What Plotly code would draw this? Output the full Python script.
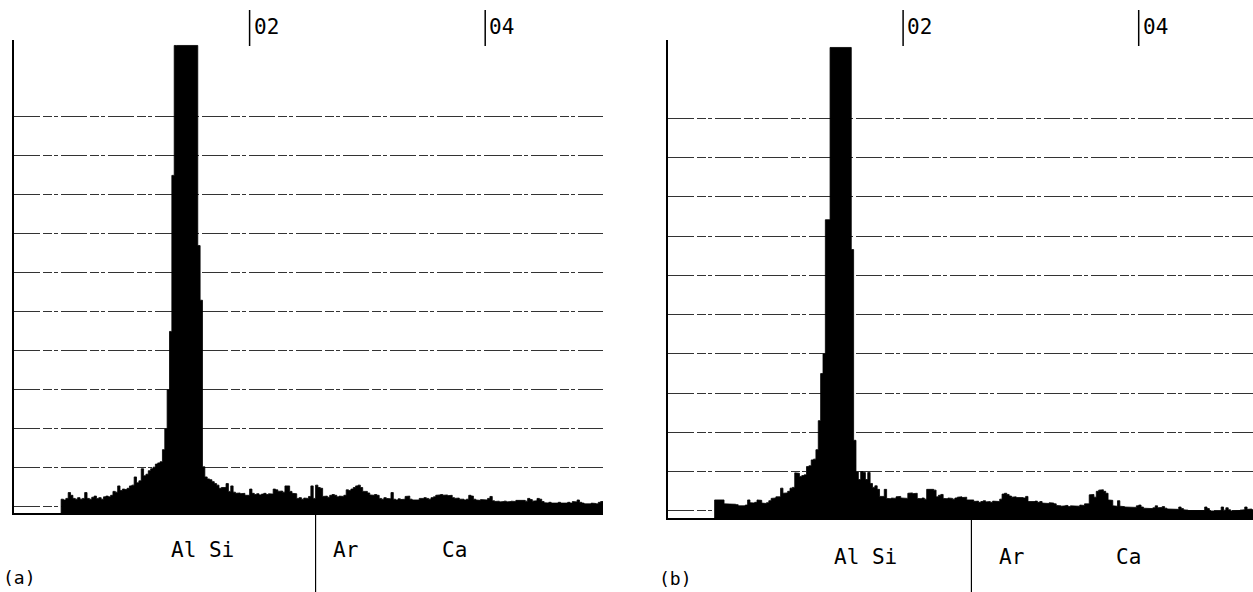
import plotly.graph_objects as go

# ---------------- data ----------------
E_START = 0.40          # keV, first channel of both spectra
E_STEP = 0.02           # keV per channel
N_CH = 230

# panel (a) counts (in units of one grid division)
counts_a = [
    0.20, 0.18, 0.22, 0.37, 0.30, 0.22, 0.20, 0.24, 0.20, 0.22,
    0.37, 0.22, 0.20, 0.25, 0.28, 0.22, 0.24, 0.20, 0.26, 0.28,
    0.26, 0.30, 0.40, 0.38, 0.54, 0.42, 0.46, 0.45, 0.48, 0.54,
    0.56, 0.77, 0.62, 0.67, 0.98, 0.80, 0.84, 0.93, 0.98, 1.02,
    1.10, 1.13, 1.16, 1.47, 2.00, 3.00, 4.50, 8.50, 11.83, 11.83,
    11.83, 11.83, 11.83, 11.83, 11.83, 11.83, 11.83, 11.83, 6.70, 5.30,
    1.03, 0.77, 0.72, 0.70, 0.65, 0.60, 0.56, 0.48, 0.50, 0.50,
    0.60, 0.40, 0.54, 0.38, 0.35, 0.36, 0.34, 0.35, 0.30, 0.30,
    0.46, 0.35, 0.32, 0.34, 0.31, 0.33, 0.35, 0.32, 0.34, 0.33,
    0.46, 0.44, 0.40, 0.41, 0.38, 0.54, 0.54, 0.40, 0.35, 0.34,
    0.22, 0.24, 0.20, 0.23, 0.22, 0.27, 0.54, 0.22, 0.56, 0.50,
    0.48, 0.27, 0.28, 0.25, 0.30, 0.32, 0.30, 0.26, 0.28, 0.27,
    0.30, 0.44, 0.42, 0.46, 0.50, 0.54, 0.56, 0.50, 0.40, 0.40,
    0.36, 0.31, 0.30, 0.32, 0.30, 0.22, 0.20, 0.24, 0.22, 0.21,
    0.37, 0.20, 0.18, 0.21, 0.19, 0.20, 0.27, 0.28, 0.20, 0.18,
    0.18, 0.18, 0.22, 0.22, 0.24, 0.22, 0.20, 0.24, 0.26, 0.30,
    0.31, 0.32, 0.30, 0.31, 0.29, 0.30, 0.24, 0.22, 0.23, 0.20,
    0.20, 0.18, 0.20, 0.30, 0.28, 0.20, 0.18, 0.17, 0.19, 0.18,
    0.18, 0.22, 0.27, 0.16, 0.14, 0.15, 0.13, 0.14, 0.15, 0.13,
    0.14, 0.15, 0.14, 0.17, 0.18, 0.18, 0.17, 0.15, 0.22, 0.19,
    0.15, 0.16, 0.22, 0.20, 0.14, 0.11, 0.10, 0.12, 0.10, 0.11,
    0.10, 0.12, 0.10, 0.11, 0.10, 0.12, 0.10, 0.14, 0.13, 0.18,
    0.12, 0.10, 0.08, 0.09, 0.08, 0.10, 0.09, 0.08, 0.12, 0.14,
]

# panel (b) counts
counts_b = [
    0.28, 0.28, 0.27, 0.28, 0.18, 0.18, 0.17, 0.18, 0.17, 0.16,
    0.13, 0.14, 0.13, 0.15, 0.28, 0.21, 0.20, 0.22, 0.28, 0.27,
    0.20, 0.19, 0.21, 0.26, 0.32, 0.33, 0.36, 0.36, 0.58, 0.45,
    0.46, 0.50, 0.58, 0.60, 0.97, 0.96, 0.88, 0.90, 0.92, 1.13,
    1.15, 1.30, 1.32, 1.56, 2.30, 3.50, 4.00, 7.42, 7.42, 11.81,
    11.81, 11.81, 11.81, 11.81, 11.81, 11.81, 11.81, 11.81, 6.66, 1.80,
    0.99, 0.80, 1.00, 0.98, 0.80, 0.98, 0.70, 0.60, 0.64, 0.55,
    0.37, 0.37, 0.55, 0.32, 0.31, 0.33, 0.32, 0.36, 0.37, 0.33,
    0.33, 0.32, 0.45, 0.46, 0.44, 0.45, 0.32, 0.31, 0.33, 0.30,
    0.55, 0.56, 0.55, 0.53, 0.36, 0.40, 0.42, 0.32, 0.31, 0.33,
    0.32, 0.30, 0.33, 0.35, 0.36, 0.34, 0.35, 0.28, 0.27, 0.28,
    0.24, 0.25, 0.22, 0.24, 0.26, 0.23, 0.24, 0.22, 0.25, 0.24,
    0.24, 0.30, 0.43, 0.45, 0.42, 0.38, 0.35, 0.36, 0.34, 0.35,
    0.34, 0.33, 0.37, 0.24, 0.23, 0.24, 0.25, 0.22, 0.24, 0.20,
    0.20, 0.19, 0.21, 0.20, 0.18, 0.14, 0.13, 0.12, 0.13, 0.14,
    0.11, 0.13, 0.12, 0.13, 0.12, 0.15, 0.14, 0.18, 0.18, 0.41,
    0.42, 0.35, 0.50, 0.53, 0.54, 0.50, 0.45, 0.28, 0.27, 0.13,
    0.12, 0.26, 0.12, 0.11, 0.10, 0.10, 0.09, 0.10, 0.09, 0.13,
    0.15, 0.10, 0.07, 0.06, 0.07, 0.06, 0.08, 0.13, 0.08, 0.09,
    0.11, 0.07, 0.05, 0.04, 0.04, 0.05, 0.04, 0.10, 0.06, 0.03,
    0.02, 0.01, 0.02, 0.01, 0.02, 0.01, 0.02, 0.01, 0.10, 0.06,
    0.00, 0.01, 0.00, 0.01, 0.00, 0.10, 0.02, 0.08, 0.03, 0.00,
    0.01, 0.00, 0.01, 0.02, 0.03, 0.10, 0.04, 0.05, 0.03, 0.04,
]

grid_levels = list(range(0, 11))          # horizontal reference lines
top_marks = [2, 4]                        # keV markers at top
top_mark_labels = ["02", "04"]
element_labels = ["Al Si", "Ar", "Ca"]
element_pos_a = [1.60, 2.81, 3.74]
element_pos_b = [1.68, 2.92, 3.91]
divider_a = 2.56
divider_b = 2.58
panel_labels = ["(a)", "(b)"]

BASE_A = -0.154
BASE_B = -0.18

W, H = 1253, 592
FONT = "DejaVu Sans Mono"


def step_outline(counts, base):
    """Closed histogram outline built from the channel counts."""
    edges = [E_START + E_STEP * i for i in range(len(counts) + 1)]
    xs, ys = [edges[0]], [base]
    for i, c in enumerate(counts):
        xs += [edges[i], edges[i + 1]]
        ys += [c, c]
    xs += [edges[-1], edges[0]]
    ys += [base, base]
    return xs, ys


fig = go.Figure()
for counts, base, xa, ya in [(counts_a, BASE_A, "x", "y"), (counts_b, BASE_B, "x2", "y2")]:
    xs, ys = step_outline(counts, base)
    fig.add_trace(go.Scatter(
        x=xs, y=ys, mode="lines", fill="toself", fillcolor="black",
        line=dict(color="black", width=0.8), xaxis=xa, yaxis=ya,
        hoverinfo="skip"))

GRID = dict(showgrid=True, gridcolor="#333333", gridwidth=1,
            griddash="26px,3px,9px,2px,4px,3px", tickvals=grid_levels,
            showticklabels=False, ticks="", zeroline=False,
            showline=True, linecolor="black", linewidth=1.5)
XAX = dict(showgrid=False, showticklabels=False, ticks="", zeroline=False,
           showline=True, linecolor="black", linewidth=1.5)

fig.update_layout(
    width=W, height=H, margin=dict(l=0, r=0, t=0, b=0),
    paper_bgcolor="white", plot_bgcolor="white", showlegend=False,
    font=dict(family=FONT, size=21, color="black"),
    xaxis=dict(XAX, range=[0, 5.0], domain=[14 / W, 603 / W], anchor="y"),
    yaxis=dict(GRID, range=[BASE_A, 11.97], domain=[(H - 513) / H, (H - 40) / H], anchor="x"),
    xaxis2=dict(XAX, range=[0, (W - 667.5) / 117.8], domain=[667.5 / W, 1.0], anchor="y2"),
    yaxis2=dict(GRID, range=[BASE_B, 12.0], domain=[(H - 518) / H, (H - 40) / H], anchor="x2"),
)

shapes = []
annots = []
for xr, yb, div, epos, plab, plx, ply, lab_y in [
    ("x", (H - 513) / H, divider_a, element_pos_a, panel_labels[0], 19 / W, 1 - 577 / H, 1 - 550 / H),
    ("x2", (H - 518) / H, divider_b, element_pos_b, panel_labels[1], 675 / W, 1 - 578 / H, 1 - 557 / H),
]:
    for m, ml in zip(top_marks, top_mark_labels):
        shapes.append(dict(type="line", xref=xr, yref="paper", x0=m, x1=m,
                           y0=1 - 10 / H, y1=1 - 46 / H,
                           line=dict(color="black", width=1.5)))
        annots.append(dict(xref=xr, yref="paper", x=m, y=1 - 27 / H, text=ml,
                           showarrow=False, xanchor="left", yanchor="middle",
                           xshift=2, font=dict(family=FONT, size=21)))
    shapes.append(dict(type="line", xref=xr, yref="paper", x0=div, x1=div,
                       y0=0, y1=yb, line=dict(color="black", width=1.2)))
    for t, p in zip(element_labels, epos):
        annots.append(dict(xref=xr, yref="paper", x=p, y=lab_y, text=t,
                           showarrow=False, xanchor="center", yanchor="middle",
                           font=dict(family=FONT, size=21)))
    annots.append(dict(xref="paper", yref="paper", x=plx, y=ply, text=plab,
                       showarrow=False, xanchor="center", yanchor="middle",
                       font=dict(family=FONT, size=18)))

fig.update_layout(shapes=shapes, annotations=annots)
fig.write_html("out.html", config={"displayModeBar": False},
               post_script="document.body.style.margin='0';document.body.style.padding='0';")
